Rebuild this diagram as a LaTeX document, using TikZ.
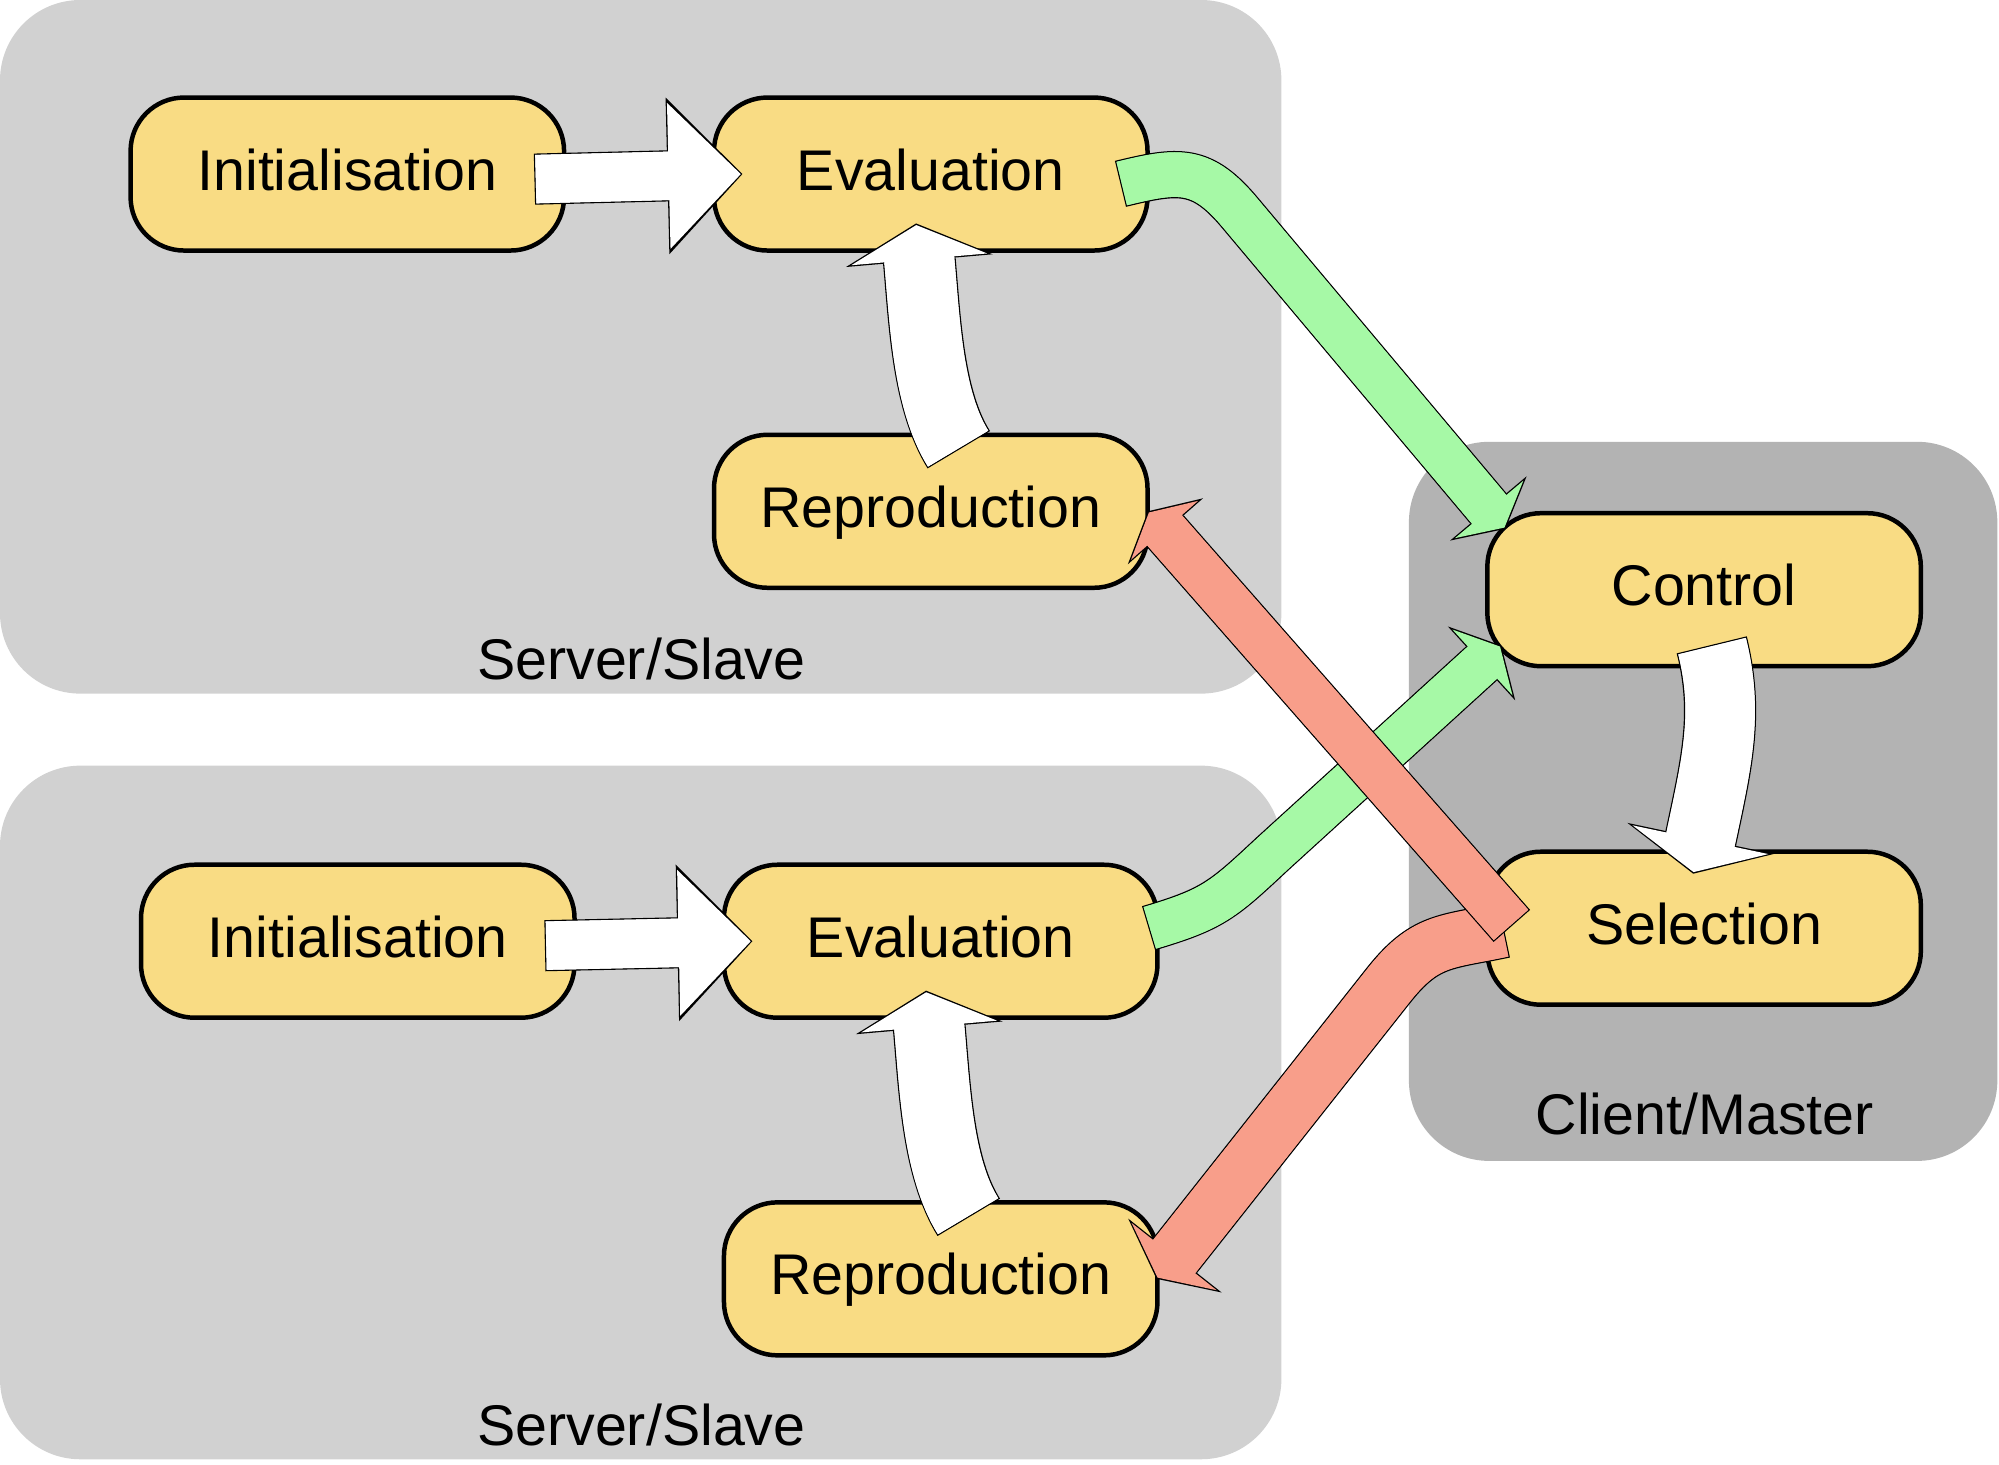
\documentclass[tikz,border=0pt]{standalone}
\usepackage{fontspec}
\setmainfont{Liberation Sans}
\usetikzlibrary{arrows.meta}

\definecolor{stagefill}{HTML}{F9DC84}
\definecolor{servergray}{HTML}{D1D1D1}
\definecolor{clientgray}{HTML}{B3B3B3}
\definecolor{sendgreen}{HTML}{A6F9A6}
\definecolor{backred}{HTML}{F89E8A}

\tikzset{
  stage/.style={draw, line width=1pt, fill=stagefill, rounded corners=0.42cm,
    minimum width=3.4cm, minimum height=1.2cm, inner sep=0pt,
    text height=0.716em, text depth=0pt},
  area/.style={rounded corners=0.63cm},
  tag/.style={anchor=base},
  % block arrow: colour, shaft width, head width, head length
  fat/.code n args={4}{%
    \pgfmathsetlengthmacro\fatline{#2+0.6pt}%
    \pgfmathsetlengthmacro\fatwidth{#3+2.4pt}%
    \pgfmathsetlengthmacro\fatlength{#4+0.65pt}%
    \pgfmathsetlengthmacro\fatback{#4-0.6pt}%
    \edef\fatnext{\noexpand\tikzset{%
      preaction={draw=black, line width=\fatline, shorten >=0pt, shorten <=0pt,
        -{Triangle[width=\fatwidth, length=\fatlength, line width=0pt]}},
      postaction={draw=#1, line width=#2, arrows=-, shorten >=\fatback, shorten <=0.3pt},
      draw=#1, line width=#2, shorten >=0.36pt, shorten <=0.3pt,
      -{Triangle[width=#3, length=#4, line width=0pt]}}}%
    \fatnext}
}

\begin{document}
\begin{tikzpicture}[font=\fontsize{12.8}{15}\selectfont]
\useasboundingbox (0,0) rectangle (15.678,-11.49);

\fill[servergray, area] (0,0) rectangle (10.05,-5.44);
\fill[servergray, area] (0,-6.005) rectangle (10.05,-11.445);
\fill[clientgray, area] (11.05,-3.465) rectangle (15.665,-9.105);
    \node[tag] (server1) at (5.03,-5.33) {Server/Slave};
    \node[tag] (server2) at (5.03,-11.34) {Server/Slave};
    \node[tag] (client) at (13.37,-8.90) {Client/Master};

    \node[stage] (init1) at (2.724,-1.365) {Initialisation};
    \node[stage] (eval1) at (7.30,-1.365) {Evaluation};
    \node[stage] (repro1) at (7.30,-4.01) {Reproduction};

    \node[stage] (init2) at (2.806,-7.382) {Initialisation};
    \node[stage] (eval2) at (7.378,-7.382) {Evaluation};
    \node[stage] (repro2) at (7.378,-10.03) {Reproduction};

    \node[stage] (control) at (13.365,-4.625) {Control};
    \node[stage] (selection) at (13.365,-7.28) {Selection};

% inside the servers
    \draw[fat={white}{0.38cm}{1.145cm}{0.565cm}] ([shift={(-0.25,-0.04)}]init1.east) -- ([xshift=0.24cm]eval1.west);
    \draw[fat={white}{0.38cm}{1.145cm}{0.565cm}] ([shift={(-0.25,-0.035)}]init2.east) -- ([xshift=0.24cm]eval2.west);
    \draw[fat={white}{0.55cm}{1.07cm}{0.27cm}] ([shift={(0.22,-0.135)}]repro1.north)
        .. controls +(122:0.45) and +(-85:0.5) .. ([shift={(-0.089,-0.07)}]eval1.south)
        -- ([shift={(-0.115,0.23)}]eval1.south);
    \draw[fat={white}{0.55cm}{1.07cm}{0.27cm}] ([shift={(0.22,-0.135)}]repro2.north)
        .. controls +(122:0.45) and +(-85:0.5) .. ([shift={(-0.089,-0.07)}]eval2.south)
        -- ([shift={(-0.115,0.23)}]eval2.south);

% inside the client
    \draw[fat={white}{0.545cm}{1.09cm}{0.26cm}] ([shift={(0.06,0.185)}]control.south)
        .. controls +(-76:0.55) and +(78:0.6) .. ([shift={(-0.023,0.103)}]selection.north)
        -- ([shift={(-0.085,-0.19)}]selection.north);

% between servers and client
    \draw[fat={sendgreen}{0.35cm}{0.7cm}{0.186cm}] ([shift={(-0.23,-0.077)}]eval1.east)
        to[out=13.7,in=129.8,looseness=1.25] ++(0.94,-0.23) -- ([shift={(0.16,-0.14)}]control.north west);
    \draw[fat={sendgreen}{0.34cm}{0.7cm}{0.186cm}] ([shift={(-0.0875,0.102)}]eval2.east)
        to[out=16.5,in=223,looseness=1.2] ++(0.968,0.58) -- ([shift={(0.1265,0.18)}]control.south west);
    \draw[fat={backred}{0.42cm}{0.85cm}{0.21cm}] ([shift={(0.15,-0.014)}]selection.west)
        to[out=192,in=52,looseness=1.2] ++(-0.917,-0.446) -- ([xshift=-0.025cm]repro2.east);
    \draw[fat={backred}{0.36cm}{0.7cm}{0.186cm}] ([shift={(0.21,0.018)}]selection.west) -- ([xshift=-0.015cm]repro1.east);
\end{tikzpicture}
\end{document}
